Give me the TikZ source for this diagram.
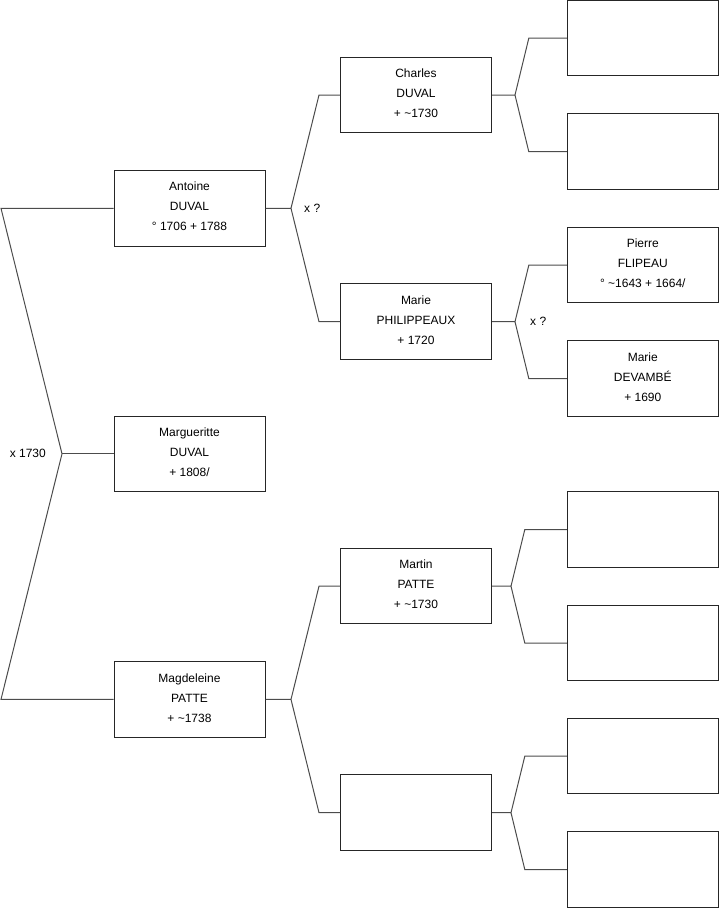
\documentclass[tikz,border=0pt]{standalone}
\usepackage{fontspec}
\setmainfont{Liberation Sans}
\usepackage{tikz}

\begin{document}
\begin{tikzpicture}[x=1pt,y=-1pt,
  box/.style={draw=black!85,line width=1pt,minimum width=151pt,minimum height=75.5pt,
    inner sep=0pt,align=center,text depth=3.5pt,font=\fontsize{12}{20}\selectfont},
  link/.style={draw=black!70,line width=1pt},
  wed/.style={inner sep=0pt,font=\fontsize{12}{14}\selectfont}]
  \useasboundingbox (0,0) rectangle (719,908);
  % columns at x = 189.5, 416, 643 ; rows from the outer generation inwards
  \node[box] (antoine) at (189.5,208.3) {Antoine\\DUVAL\\° 1706 + 1788};
  \node[box] (margueritte) at (189.5,453.8) {Margueritte\\DUVAL\\+ 1808/};
  \node[box] (magdeleine) at (189.5,699.4) {Magdeleine\\PATTE\\+ \textasciitilde1738};
  \node[box] (charles) at (416,95) {Charles\\DUVAL\\+ \textasciitilde1730};
  \node[box] (philippe) at (416,321.7) {Marie\\PHILIPPEAUX\\+ 1720};
  \node[box] (martin) at (416,586.2) {Martin\\PATTE\\+ \textasciitilde1730};
  \node[box] (pb) at (416,812.7) {};
  \node[box] (p1) at (642.8,38.2) {};
  \node[box] (p2) at (642.8,151.7) {};
  \node[box] (flipeau) at (642.8,265.2) {Pierre\\FLIPEAU\\° \textasciitilde1643 + 1664/};
  \node[box] (devambe) at (642.8,378.5) {Marie\\DEVAMBÉ\\+ 1690};
  \foreach \n/\y in {p5/529.5, p6/643, p7/756.2, p8/869.5}
    \node[box] (\n) at (642.8,\y) {};

  % marriage brackets
  \coordinate (vm) at ([xshift=-51.5pt]margueritte.west);
  \draw[link] (antoine.west) -- ++(-112.5,0) -- (vm) -- ([xshift=-112.5pt]magdeleine.west) -- (magdeleine.west);
  \draw[link] (vm) -- (margueritte.west);
  \foreach \c/\p/\q/\dv/\dh in {antoine/charles/philippe/25.5/21, magdeleine/martin/pb/25.5/21,
      charles/p1/p2/23/38, philippe/flipeau/devambe/23/38, martin/p5/p6/19/42, pb/p7/p8/19/42}
    \draw[link] (\p.west) -- ++(-\dh,0) -- ([xshift=\dv pt]\c.east) -- (\c.east)
      ([xshift=\dv pt]\c.east) -- ([xshift=-\dh pt]\q.west) -- (\q.west);

  \node[wed,anchor=east] (w1) at ([xshift=-16pt]vm) {x 1730};
  \node[wed,anchor=west] (w2) at ([xshift=38.5pt]antoine.east) {x ?};
  \node[wed,anchor=west] (w3) at ([xshift=38pt]philippe.east) {x ?};
\end{tikzpicture}
\end{document}
